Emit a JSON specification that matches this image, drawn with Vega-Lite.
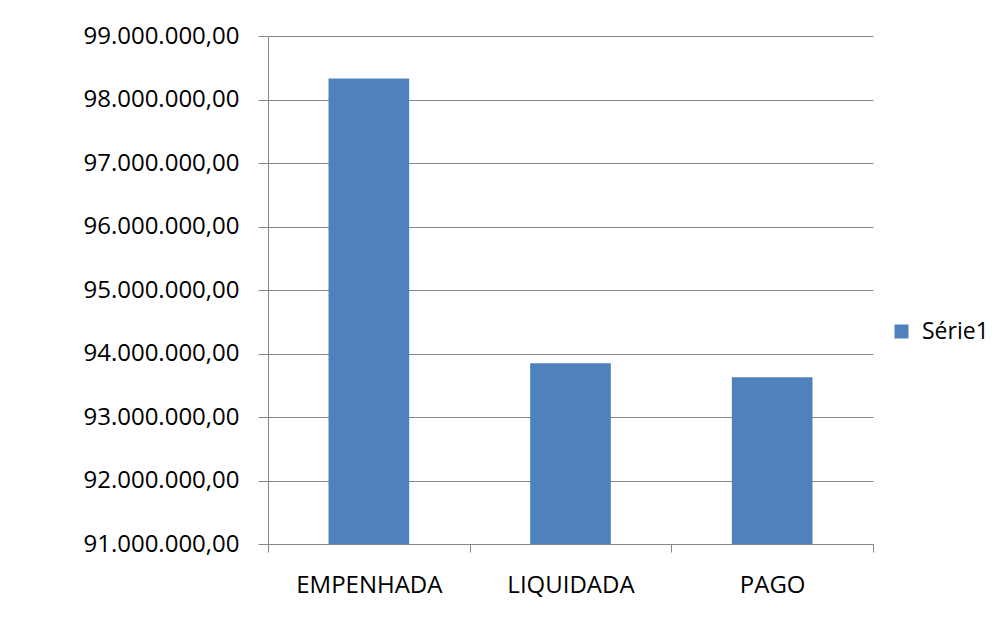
{
  "$schema": "https://vega.github.io/schema/vega-lite/v6.json",
  "width": 605,
  "height": 508,
  "autosize": "none",
  "padding": {"left": 268, "top": 36, "right": 122, "bottom": 98},
  "background": "white",
  "config": {
    "locale": {"number": {"decimal": ",", "thousands": ".", "grouping": [3], "currency": ["R$", ""]}},
    "view": {"stroke": null},
    "font": "Open Sans"
  },
  "data": {
    "values": [
      {"categoria": "EMPENHADA", "valor": 98330000, "serie": "Série1"},
      {"categoria": "LIQUIDADA", "valor": 93845000, "serie": "Série1"},
      {"categoria": "PAGO", "valor": 93625000, "serie": "Série1"}
    ]
  },
  "mark": {"type": "bar", "width": {"band": 0.4}},
  "encoding": {
    "x": {
      "field": "categoria",
      "type": "nominal",
      "sort": null,
      "scale": {"paddingInner": 0, "paddingOuter": 0},
      "axis": {
        "title": null,
        "labelAngle": 0,
        "labelFont": "Open Sans",
        "labelFontSize": 24,
        "labelColor": "#000000",
        "labelPadding": 21,
        "tickBand": "extent",
        "tickSize": 8,
        "tickColor": "#868686",
        "domainColor": "#868686",
        "grid": false
      }
    },
    "y": {
      "field": "valor",
      "type": "quantitative",
      "scale": {"domain": [91000000, 99000000], "zero": false, "nice": false},
      "axis": {
        "title": null,
        "values": [91000000, 92000000, 93000000, 94000000, 95000000, 96000000, 97000000, 98000000, 99000000],
        "format": ",.2f",
        "labelFont": "Open Sans",
        "labelFontSize": 24,
        "labelColor": "#000000",
        "labelPadding": 19,
        "tickSize": 10,
        "tickColor": "#868686",
        "domainColor": "#868686",
        "gridColor": "#868686",
        "gridOpacity": 1,
        "grid": true
      }
    },
    "y2": {"datum": 91000000},
    "color": {
      "field": "serie",
      "type": "nominal",
      "scale": {"range": ["#4F81BD"]},
      "legend": {
        "title": null,
        "orient": "none",
        "legendX": 622,
        "legendY": 284,
        "symbolType": "square",
        "symbolSize": 196,
        "symbolStrokeWidth": 0,
        "labelFont": "Open Sans",
        "labelFontSize": 23,
        "labelColor": "#000000",
        "labelOffset": 9,
        "padding": 0
      }
    }
  }
}
